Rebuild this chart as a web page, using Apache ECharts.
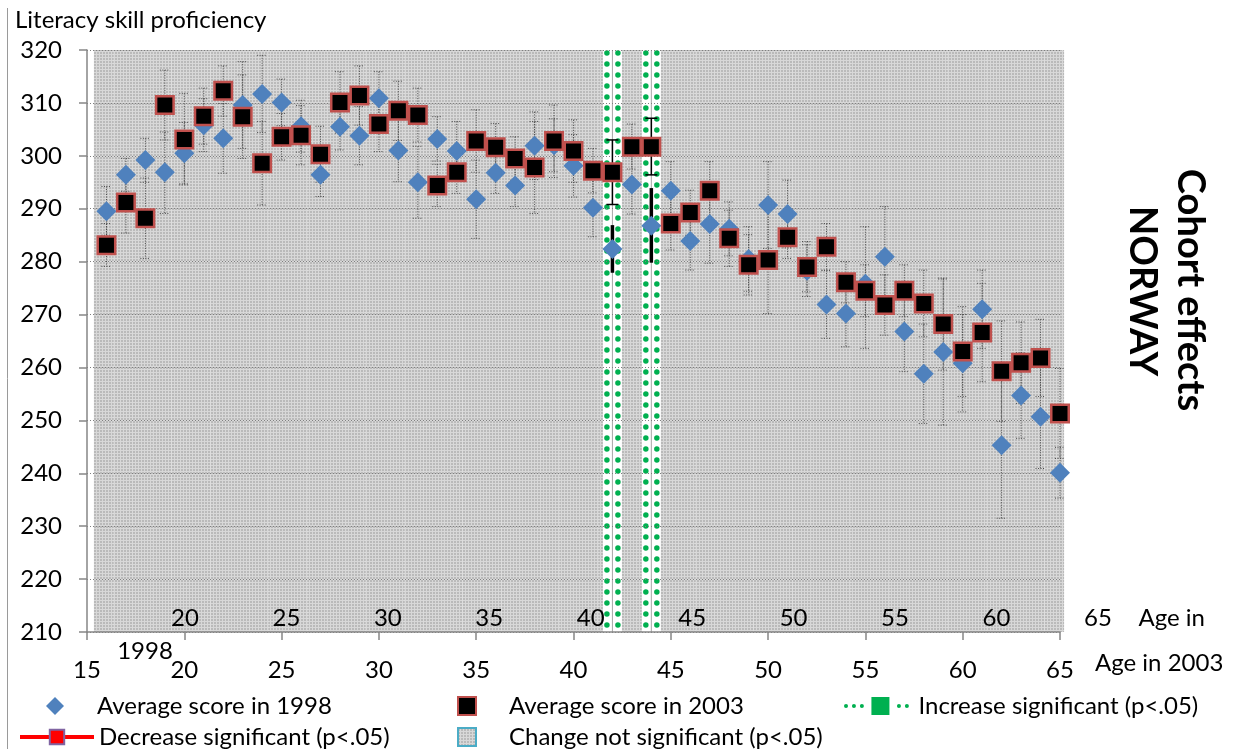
<!DOCTYPE html>
<html>
<head>
<meta charset="utf-8">
<title>Cohort effects NORWAY</title>
<script src="https://cdn.jsdelivr.net/npm/echarts@6.0.0/dist/echarts.min.js"></script>
<style>
    html, body { margin: 0; padding: 0; background: #ffffff; }
    #chart { width: 1254px; height: 749px; }
</style>
</head>
<body>
<div id="chart"></div>
<script>
// age in 2003 (the 1998 scores belong to the same cohort, 5 years younger)
var ages = [16, 17, 18, 19, 20, 21, 22, 23, 24, 25, 26, 27, 28, 29, 30, 31, 32, 33, 34, 35,
    36, 37, 38, 39, 40, 41, 42, 43, 44, 45, 46, 47, 48, 49, 50, 51, 52, 53, 54, 55,
    56, 57, 58, 59, 60, 61, 62, 63, 64, 65];

var score1998 = [289.5, 296.4, 299.2, 296.9, 300.5, 305.8, 303.3, 309.6, 311.7, 310.1,
    305.6, 296.4, 305.5, 303.8, 310.9, 301.0, 295.0, 303.2, 300.9, 291.8,
    296.8, 294.4, 301.9, 302.0, 298.1, 290.2, 282.4, 294.6, 286.8, 293.4,
    283.9, 287.1, 286.2, 280.5, 290.7, 289.0, 278.3, 271.9, 270.2, 275.8,
    280.9, 266.8, 258.8, 262.9, 260.8, 271.0, 245.3, 254.7, 250.7, 240.1];
var low1998 = [285.0, 293.3, 295.0, 289.1, 294.7, 300.8, 296.7, 301.4, 304.4, 305.7,
    300.7, 292.3, 301.1, 298.3, 305.9, 295.1, 288.2, 299.0, 295.3, 284.4,
    292.9, 290.4, 295.5, 297.0, 292.2, 284.7, 277.9, 289.0, 279.8, 288.0,
    278.4, 279.7, 281.1, 274.4, 282.5, 282.6, 273.4, 265.5, 263.9, 263.6,
    271.4, 259.2, 249.4, 249.1, 251.6, 263.6, 231.5, 246.6, 240.9, 235.3];
var high1998 = [294.2, 299.5, 303.3, 304.5, 306.3, 310.8, 309.9, 317.8, 319.0, 314.5,
    310.5, 300.5, 309.9, 309.3, 315.9, 306.9, 301.8, 307.4, 306.5, 299.2,
    300.7, 298.4, 308.3, 307.0, 304.0, 295.7, 286.9, 300.0, 293.9, 298.9,
    289.4, 294.5, 291.3, 286.6, 298.9, 295.4, 283.2, 278.3, 276.5, 286.6,
    290.4, 274.4, 268.2, 276.7, 270.0, 278.4, 259.1, 262.8, 260.5, 244.9];

var score2003 = [283.1, 291.2, 288.2, 309.6, 303.1, 307.5, 312.3, 307.4, 298.6, 303.6,
    303.9, 300.3, 310.1, 311.4, 306.0, 308.5, 307.7, 294.4, 296.9, 302.8,
    301.6, 299.5, 297.8, 302.8, 300.9, 297.2, 296.9, 301.7, 301.7, 287.2,
    289.3, 293.4, 284.4, 279.4, 280.3, 284.6, 279.0, 282.8, 276.1, 274.5,
    271.8, 274.5, 272.1, 268.2, 263.0, 266.6, 259.3, 260.9, 261.8, 251.3];
var low2003 = [279.1, 285.4, 280.6, 303.0, 294.5, 302.2, 307.5, 299.5, 290.7, 299.2,
    298.3, 295.0, 304.3, 305.8, 300.8, 302.9, 302.6, 290.4, 292.9, 296.9,
    297.1, 295.4, 289.1, 295.9, 295.0, 293.0, 290.8, 297.5, 296.4, 282.2,
    285.0, 287.9, 279.1, 273.7, 270.2, 280.6, 274.3, 278.4, 272.2, 269.6,
    266.1, 269.6, 265.8, 259.5, 254.5, 257.3, 249.8, 253.2, 254.5, 242.8];
var high2003 = [287.2, 297.0, 295.8, 316.2, 311.8, 312.8, 317.0, 315.3, 306.5, 308.0,
    309.5, 305.6, 315.9, 317.0, 311.2, 314.1, 312.8, 298.4, 300.9, 308.7,
    306.1, 303.6, 306.5, 309.6, 306.8, 301.4, 303.0, 306.0, 307.1, 292.2,
    293.5, 298.9, 289.7, 285.1, 290.4, 288.6, 283.8, 287.2, 280.0, 279.4,
    277.5, 279.4, 278.4, 276.9, 271.5, 275.9, 268.8, 268.6, 269.1, 259.8];

// ages where the change 1998 -> 2003 is significant (increase)
var increaseAges = [42, 44];

// axis ranges and tick labels
var yMin = 210, yMax = 320, yStep = 10;
var ageTicks2003 = [15, 20, 25, 30, 35, 40, 45, 50, 55, 60, 65];
var ageTicks1998 = [20, 25, 30, 35, 40, 45, 50, 55, 60, 65];

var NAME_1998 = 'Average score in 1998';
var NAME_2003 = 'Average score in 2003';
var NAME_INC = 'Increase significant (p<.05)';
var NAME_DEC = 'Decrease significant (p<.05)';
var NAME_NS = 'Change not significant (p<.05)';

var FONT = 'Lato, "Open Sans", sans-serif';
var FS = 24;

/**
 * @description grey hatched fill used by the "not significant" columns
 */
function makeHatch() {
    var c = document.createElement('canvas');
    c.width = 3;
    c.height = 3;
    var g = c.getContext('2d');
    g.fillStyle = '#bababa';
    g.fillRect(0, 0, 3, 3);
    g.fillStyle = '#d8d8d8';
    g.fillRect(0, 0, 3, 1);
    g.fillRect(0, 0, 1, 3);
    return c;
}

function isIncrease(age) {
    return increaseAges.indexOf(age) >= 0 ? 1 : 0;
}

/**
 * @description error bar drawn between low and high, solid black when significant
 */
function errorBarRenderer(thickWhenSignificant) {
    return function (params, api) {
        var age = api.value(0);
        var top = api.coord([age, api.value(2)]);
        var bottom = api.coord([age, api.value(1)]);
        var style, cap;
        if (api.value(3) === 1) {
            style = {stroke: '#000000', lineWidth: thickWhenSignificant ? 3.5 : 1.5};
            cap = thickWhenSignificant ? 0 : 6;
        } else {
            style = {stroke: '#4a4a4a', lineWidth: 1, lineDash: [1, 1.5]};
            cap = 5;
        }
        var children = [{
            type: 'line',
            shape: {x1: top[0], y1: top[1], x2: bottom[0], y2: bottom[1]},
            style: style
        }];
        if (cap) {
            children.push({type: 'line', shape: {x1: top[0] - cap, y1: top[1], x2: top[0] + cap, y2: top[1]}, style: style});
            children.push({type: 'line', shape: {x1: bottom[0] - cap, y1: bottom[1], x2: bottom[0] + cap, y2: bottom[1]}, style: style});
        }
        return {type: 'group', children: children};
    };
}

/**
 * @description white column with green dotted edges for a significant increase
 */
function increaseRenderer(params, api) {
    var age = api.value(0);
    var top = api.coord([age, api.value(1)]);
    var bottom = api.coord([age, yMin]);
    var dots = {stroke: '#00b050', lineWidth: 5.5, lineDash: [0, 11], lineCap: 'round'};
    return {
        type: 'group',
        children: [{
            type: 'rect',
            shape: {x: top[0] - 9.5, y: top[1], width: 19, height: bottom[1] - top[1]},
            style: {fill: '#ffffff'}
        }, {
            type: 'line',
            shape: {x1: top[0], y1: top[1], x2: top[0], y2: bottom[1]},
            style: {stroke: '#a6a6a6', lineWidth: 1}
        }, {
            type: 'line',
            shape: {x1: top[0] - 5.5, y1: top[1] + 3, x2: top[0] - 5.5, y2: bottom[1]},
            style: dots
        }, {
            type: 'line',
            shape: {x1: top[0] + 5.5, y1: top[1] + 3, x2: top[0] + 5.5, y2: bottom[1]},
            style: dots
        }]
    };
}

function dotPath(cx, cy, r) {
    return 'M' + (cx - r) + ' ' + cy + 'a' + r + ' ' + r + ' 0 1 0 ' + (2 * r) + ' 0' +
        'a' + r + ' ' + r + ' 0 1 0 ' + (-2 * r) + ' 0Z';
}

/**
 * @description one legend entry (Excel-like: wide icon box, text right of it);
 * square icons are centred in the 74px box, so their entry starts 28px further right
 */
function legendEntry(left, centerY, item) {
    return {
        left: left,
        top: centerY - 12,
        padding: 0,
        itemWidth: 74,
        itemHeight: 18,
        selectedMode: false,
        textStyle: {fontFamily: FONT, fontSize: FS, color: '#000000'},
        data: [item]
    };
}

var chart = echarts.init(document.getElementById('chart'), null, {renderer: 'canvas'});
var hatchFill = {image: makeHatch(), repeat: 'repeat'};

var increaseIcon = 'path://' + dotPath(2, 8.5, 1.9) + dotPath(9.5, 8.5, 1.9) + dotPath(17, 8.5, 1.9) +
    'M26 0H43V17H26Z' + dotPath(52, 8.5, 1.9) + dotPath(59.5, 8.5, 1.9);

var data1998 = [], data2003 = [], err1998 = [], err2003 = [], notSig = [], incData = [];
for (var i = 0; i < ages.length; i++) {
    data1998.push([ages[i], score1998[i]]);
    data2003.push([ages[i], score2003[i]]);
    err1998.push([ages[i], low1998[i], high1998[i], isIncrease(ages[i])]);
    err2003.push([ages[i], low2003[i], high2003[i], isIncrease(ages[i])]);
    notSig.push([ages[i], yMax]);
}
for (var j = 0; j < increaseAges.length; j++) {
    incData.push([increaseAges[j], yMax]);
}

var option = {
    animation: false,
    textStyle: {fontFamily: FONT},
    title: {
        text: 'Literacy skill proficiency',
        left: 10,
        top: 3,
        textStyle: {fontFamily: FONT, fontSize: FS, fontWeight: 'normal', color: '#000000'}
    },
    legend: [
        legendEntry(46, 706, {name: NAME_1998, icon: 'path://M10 0L20 10L10 20L0 10Z'}),
        legendEntry(18, 737, {name: NAME_DEC, lineStyle: {color: '#ff0000', width: 4}}),
        legendEntry(457, 706, {name: NAME_2003, icon: 'path://M0 0H20V20H0Z'}),
        legendEntry(457, 737, {name: NAME_NS, icon: 'path://M0 0H20V20H0Z',
            itemStyle: {color: hatchFill, borderColor: '#4bacc6', borderWidth: 2}}),
        legendEntry(844, 706, {name: NAME_INC, icon: increaseIcon, itemStyle: {color: '#00b050'}})
    ],
    grid: [
        {left: 87, right: 194, top: 50, bottom: 117, outerBoundsMode: 'none'},
        {left: 83.5, top: 50, width: 1055, height: 582, show: false, outerBoundsMode: 'none'}
    ],
    xAxis: [{
        type: 'value',
        gridIndex: 0,
        min: ageTicks2003[0],
        max: ageTicks2003[ageTicks2003.length - 1],
        interval: 5,
        z: 3,
        axisLine: {show: true, onZero: false, lineStyle: {color: '#868686', width: 1.5}},
        axisTick: {show: true, length: 8, lineStyle: {color: '#868686', width: 1.5}},
        splitLine: {show: false},
        axisLabel: {fontSize: FS, color: '#000000', margin: 26},
        name: 'Age in 2003',
        nameLocation: 'end',
        nameGap: 35,
        nameTextStyle: {fontSize: FS, color: '#000000', verticalAlign: 'top', padding: [19, 0, 0, 0]}
    }, {
        // second age scale: age of the same cohort in 1998
        type: 'value',
        gridIndex: 1,
        min: 15,
        max: 67,
        interval: 5,
        z: 3,
        axisLine: {show: false},
        axisTick: {show: false},
        splitLine: {show: false},
        axisLabel: {
            inside: true,
            margin: 2,
            fontSize: FS,
            color: '#000000',
            formatter: function (v) {
                return ageTicks1998.indexOf(v) >= 0 ? String(v) : '';
            }
        },
        name: 'Age in',
        nameLocation: 'end',
        nameGap: 0,
        nameTextStyle: {fontSize: FS, color: '#000000', verticalAlign: 'bottom', padding: [0, 0, 2, 0]}
    }, {
        // carrier for the background columns
        type: 'value',
        gridIndex: 0,
        min: 15.139,
        max: 65.294,
        show: false
    }],
    yAxis: [{
        type: 'value',
        gridIndex: 0,
        min: yMin,
        max: yMax,
        interval: yStep,
        z: 3,
        axisLine: {show: true, lineStyle: {color: '#868686', width: 1.5}},
        axisTick: {show: true, length: 8, lineStyle: {color: '#868686', width: 1.5}},
        splitLine: {show: true, lineStyle: {color: '#7f7f7f', width: 1, type: [1, 2]}},
        axisLabel: {fontSize: FS, color: '#000000', margin: 25}
    }, {
        type: 'value',
        gridIndex: 1,
        min: 0,
        max: 1,
        show: false
    }],
    series: [{
        name: NAME_NS,
        type: 'bar',
        xAxisIndex: 2,
        yAxisIndex: 0,
        barWidth: 19.6,
        z: 1,
        itemStyle: {color: hatchFill},
        data: notSig
    }, {
        name: NAME_INC,
        type: 'custom',
        xAxisIndex: 0,
        yAxisIndex: 0,
        z: 2,
        itemStyle: {color: '#00b050'},
        renderItem: increaseRenderer,
        data: incData
    }, {
        name: NAME_DEC,
        type: 'line',
        xAxisIndex: 0,
        yAxisIndex: 0,
        symbol: 'rect',
        lineStyle: {color: '#ff0000', width: 4},
        itemStyle: {color: '#ff0000', borderColor: '#8064a2', borderWidth: 1.5},
        data: []
    }, {
        name: 'err1998',
        type: 'custom',
        xAxisIndex: 0,
        yAxisIndex: 0,
        z: 4,
        renderItem: errorBarRenderer(true),
        data: err1998
    }, {
        name: 'err2003',
        type: 'custom',
        xAxisIndex: 0,
        yAxisIndex: 0,
        z: 4,
        renderItem: errorBarRenderer(false),
        data: err2003
    }, {
        name: NAME_1998,
        type: 'scatter',
        xAxisIndex: 0,
        yAxisIndex: 0,
        z: 5,
        symbol: 'diamond',
        symbolSize: 20,
        itemStyle: {color: '#4f81bd', opacity: 1},
        data: data1998
    }, {
        name: NAME_2003,
        type: 'scatter',
        xAxisIndex: 0,
        yAxisIndex: 0,
        z: 6,
        symbol: 'rect',
        symbolSize: 17.5,
        itemStyle: {color: '#000000', borderColor: '#c0504d', borderWidth: 2.5, opacity: 1},
        data: data2003
    }],
    graphic: [{
        type: 'line',
        shape: {x1: 7.5, y1: 8, x2: 7.5, y2: 749},
        style: {stroke: '#9a9a9a', lineWidth: 1}
    }, {
        type: 'text',
        x: 145,
        y: 651,
        style: {text: '1998', fontFamily: FONT, fontSize: FS, fill: '#000000', align: 'center', verticalAlign: 'middle'}
    }, {
        type: 'text',
        x: 1190,
        y: 290,
        rotation: -Math.PI / 2,
        style: {text: 'Cohort effects', fontFamily: FONT, fontSize: 38, fontWeight: 'bold', fill: '#000000', align: 'center', verticalAlign: 'middle'}
    }, {
        type: 'text',
        x: 1142,
        y: 291,
        rotation: -Math.PI / 2,
        style: {text: 'NORWAY', fontFamily: FONT, fontSize: 38, fontWeight: 'bold', fill: '#000000', align: 'center', verticalAlign: 'middle'}
    }]
};

chart.setOption(option, true);
</script>
</body>
</html>
